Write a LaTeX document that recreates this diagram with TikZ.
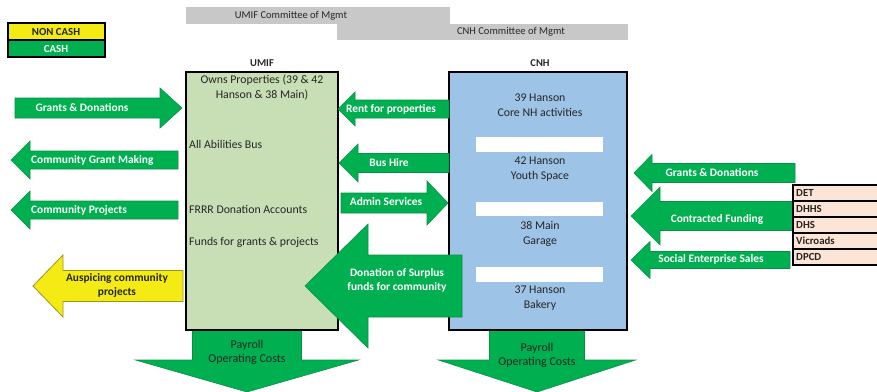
\documentclass[tikz,border=0pt]{standalone}
\usepackage{fontspec}
\setmainfont{Carlito}
\definecolor{cashgreen}{HTML}{00B050}
\definecolor{cashedge}{HTML}{0A8F45}
\definecolor{ncyellow}{HTML}{F5EB14}
\definecolor{ncedge}{HTML}{9C9420}
\definecolor{umiffill}{HTML}{C8DFB5}
\definecolor{cnhfill}{HTML}{9DC3E6}
\definecolor{barfill}{HTML}{C8C8C8}
\definecolor{pinkfill}{HTML}{FCE4D6}
\definecolor{darktext}{HTML}{262626}
\newcommand\HArw[8]{% style, tip x, y, head base x, end x, body half, head half, name
  \draw[#1] (#2,#3) -- (#4,{#3-#7}) -- (#4,{#3-#6}) -- (#5,{#3-#6}) -- (#5,{#3+#6}) -- (#4,{#3+#6}) -- (#4,{#3+#7}) -- cycle;
  \coordinate (#8) at (#2,#3);}
\newcommand\DArw[8]{% style, x centre, top y, head base y, tip y, body half, head half, name
  \draw[#1] (#2,#5) -- ({#2-#7},#4) -- ({#2-#6},#4) -- ({#2-#6},#3) -- ({#2+#6},#3) -- ({#2+#6},#4) -- ({#2+#7},#4) -- cycle;
  \coordinate (#8) at (#2,#5);}
\tikzset{
  cash/.style={fill=cashgreen, draw=cashedge, line width=0.6pt},
  noncash/.style={fill=ncyellow, draw=ncedge, line width=0.8pt},
  wlabel/.style={text=white, font=\bfseries\fontsize{11.4}{14}\selectfont, align=center, inner sep=0pt},
  dlabel/.style={text=darktext, font=\fontsize{12}{14}\selectfont, align=center, inner sep=0pt},
  btext/.style={text=darktext, font=\fontsize{11.8}{15}\selectfont, inner sep=0pt},
  orgbox/.style={draw=black, line width=1.8pt},
  bar/.style={fill=barfill, draw=none},
  whitebar/.style={fill=white, draw=none},
  cell/.style={fill=pinkfill, draw=black, line width=1.4pt},
  celltext/.style={text=darktext, font=\bfseries\fontsize{10.8}{12}\selectfont, anchor=west, inner sep=0pt},
}
\begin{document}
\begin{tikzpicture}[x=1pt,y=-1pt]
\useasboundingbox (0,0) rectangle (877,391);
% legend
\draw[fill=ncyellow, draw=black, line width=1.4pt] (8,23) rectangle (105,40);
\node[text=darktext, font=\bfseries\fontsize{10.8}{12}\selectfont, inner sep=0pt] (legnc) at (56,31.5) {NON CASH};
\draw[fill=cashgreen, draw=black, line width=1.4pt] (8,40) rectangle (105,57);
\node[text=white, font=\bfseries\fontsize{10.8}{12}\selectfont, inner sep=0pt] (legc) at (56,48.5) {CASH};
% committee bars
\fill[bar] (186,7) rectangle (450,24);
\node[btext, font=\fontsize{10.5}{12}\selectfont] (umifcom) at (291,15.5) {UMIF Committee of Mgmt};
\fill[bar] (337,24) rectangle (628,40);
\node[btext, font=\fontsize{10.5}{12}\selectfont] (cnhcom) at (511,32) {CNH Committee of Mgmt};
% titles
\node[btext, font=\bfseries\fontsize{10.5}{12}\selectfont] (umiftitle) at (262,63) {UMIF};
\node[btext, font=\bfseries\fontsize{10.5}{12}\selectfont] (cnhtitle) at (540,63) {CNH};
% payroll arrows (behind the boxes)
\DArw{cash}{247}{320}{360}{392}{54.5}{111.5}{umifout}
\node[dlabel] (umifpay) at (247,352) {Payroll\\Operating Costs};
\DArw{cash}{537}{320}{360}{392}{47.5}{98.5}{cnhout}
\node[dlabel] (cnhpay) at (537,355) {Payroll\\Operating Costs};
% UMIF box
\draw[orgbox, fill=umiffill] (186,72) rectangle (338,330);
\node[btext, align=center] (own) at (262,88) {Owns Properties (39 \& 42\\Hanson \& 38 Main)};
\node[btext, anchor=west] (bus) at (189,144) {All Abilities Bus};
\node[btext, anchor=west] (frrr) at (189,209) {FRRR Donation Accounts};
\node[btext, anchor=west] (funds) at (189,242) {Funds for grants \& projects};
% CNH box
\draw[orgbox, fill=cnhfill] (449,72) rectangle (627,330);
\fill[whitebar] (476,137) rectangle (603,152);
\fill[whitebar] (476,202) rectangle (603,216);
\fill[whitebar] (476,267) rectangle (603,282);
\node[btext, align=center] (h39) at (540,105) {39 Hanson\\Core NH activities};
\node[btext, align=center] (h42) at (540,169) {42 Hanson\\Youth Space};
\node[btext, align=center] (m38) at (540,234) {38 Main\\Garage};
\node[btext, align=center] (h37) at (540,298) {37 Hanson\\Bakery};
% left side arrows
\HArw{cash}{182}{108}{160}{15}{10}{20}{gdin}
\node[wlabel] (gdtext) at (82,108) {Grants \& Donations};
\HArw{cash}{11}{160}{30}{178}{9}{19}{cgm}
\node[wlabel, anchor=west] (cgmtext) at (31,160) {Community Grant Making};
\HArw{cash}{11}{210}{30}{178}{9}{19}{cp}
\node[wlabel, anchor=west] (cptext) at (31,210) {Community Projects};
\HArw{noncash}{33}{286}{63}{183}{15.5}{31}{ausp}
\node[dlabel, font=\bfseries\fontsize{11.4}{14}\selectfont] (ausptext) at (117,285) {Auspicing community\\projects};
% middle arrows
\HArw{cash}{338}{109}{355}{449}{9}{17}{rent}
\node[wlabel] (renttext) at (391,109) {Rent for properties};
\HArw{cash}{339}{163}{358}{449}{9.5}{19}{bushire}
\node[wlabel] (bustext) at (389,163) {Bus Hire};
\HArw{cash}{448}{203}{427}{341}{10}{22}{admin}
\node[wlabel] (admintext) at (386,202) {Admin Services};
\HArw{cash}{305}{286}{368}{462}{31}{62}{donation}
\node[wlabel] (dontext) at (397,280) {Donation of Surplus\\funds for community};
% right side arrows
\HArw{cash}{634}{173}{652}{795}{9.5}{18.5}{gdcnh}
\node[wlabel] (gdcnhtext) at (712,173) {Grants \& Donations};
\HArw{cash}{631}{216}{660}{793}{14.5}{29}{contract}
\node[wlabel] (contracttext) at (717,219) {Contracted Funding};
\HArw{cash}{631}{260}{650}{790}{8.5}{18.5}{social}
\node[wlabel] (socialtext) at (711,259) {Social Enterprise Sales};
% funding bodies table
\draw[cell] (793,185) rectangle (878,201);
\node[celltext] (det) at (796,193) {DET};
\draw[cell] (793,201) rectangle (878,217);
\node[celltext] (dhhs) at (796,209) {DHHS};
\draw[cell] (793,217) rectangle (878,233);
\node[celltext] (dhs) at (796,225) {DHS};
\draw[cell] (793,233) rectangle (878,249);
\node[celltext] (vic) at (796,241) {Vicroads};
\draw[cell] (793,249) rectangle (878,265);
\node[celltext] (dpcd) at (796,257) {DPCD};
\end{tikzpicture}
\end{document}
